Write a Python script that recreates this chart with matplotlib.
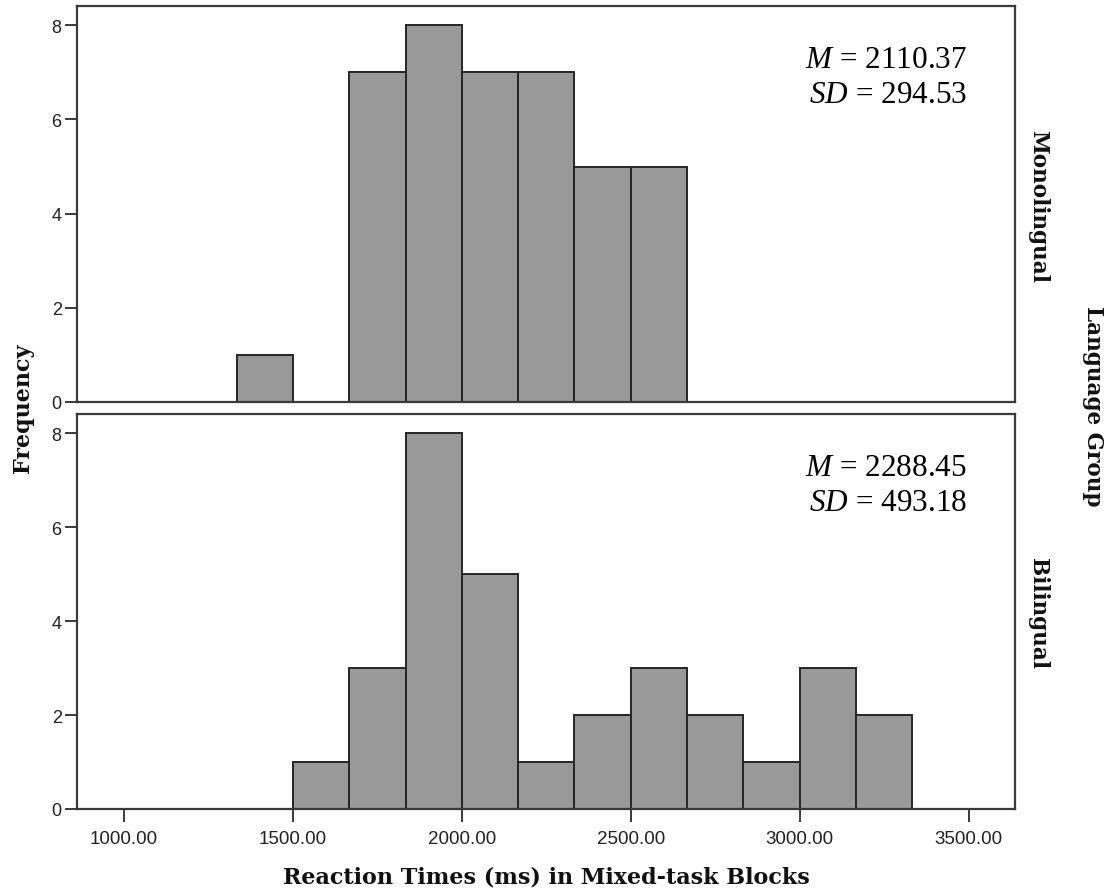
import matplotlib
matplotlib.use("Agg")
import matplotlib.pyplot as plt
from matplotlib.ticker import FixedLocator

# ---- data ----
bin_width = 500.0 / 3.0
mono_bin_starts = [1333.33, 1500.00, 1666.67, 1833.33, 2000.00, 2166.67, 2333.33, 2500.00]
mono_counts = [1, 0, 7, 8, 7, 7, 5, 5]
bi_bin_starts = [1500.00, 1666.67, 1833.33, 2000.00, 2166.67, 2333.33, 2500.00,
                 2666.67, 2833.33, 3000.00, 3166.67]
bi_counts = [1, 3, 8, 5, 1, 2, 3, 2, 1, 3, 2]
group_labels = ["Monolingual", "Bilingual"]
means = ["2110.37", "2288.45"]
sds = ["294.53", "493.18"]
x_ticks = [1000, 1500, 2000, 2500, 3000, 3500]
x_tick_labels = ["1000.00", "1500.00", "2000.00", "2500.00", "3000.00", "3500.00"]
y_ticks = [0, 2, 4, 6, 8]
x_label = "Reaction Times (ms) in Mixed-task Blocks"
y_label = "Frequency"
facet_title = "Language Group"

plt.rcParams['mathtext.fontset'] = 'custom'
plt.rcParams['mathtext.rm'] = 'Liberation Serif'
plt.rcParams['mathtext.it'] = 'Liberation Serif:italic'

fig = plt.figure(figsize=(11.12, 8.95), dpi=100)
W, H = 1112, 895

def fx(px):
    return px / W

def fy(py):
    return 1 - py / H

left, right = fx(77), fx(1015)
ax_top = fig.add_axes([left, fy(403), right - left, fy(7) - fy(403)])
ax_bot = fig.add_axes([left, fy(810), right - left, fy(415) - fy(810)])

spine_col = "#3a3a3a"
for ax, starts, counts, m, sd in [(ax_top, mono_bin_starts, mono_counts, means[0], sds[0]),
                                  (ax_bot, bi_bin_starts, bi_counts, means[1], sds[1])]:
    ax.bar(starts, counts, width=bin_width, align='edge', color="#999999",
           edgecolor="#262626", linewidth=1.4, zorder=2)
    ax.set_xlim(861, 3637)
    ax.set_ylim(0, 8.41)
    ax.yaxis.set_major_locator(FixedLocator(y_ticks))
    ax.set_yticklabels([str(t) for t in y_ticks], family="Liberation Sans",
                       fontsize=13, color="#222222")
    ax.tick_params(axis='y', direction='out', length=9, width=1.4, color=spine_col, pad=2)
    for s in ax.spines.values():
        s.set_color(spine_col)
        s.set_linewidth(1.6)
    ax.text(0.949, 0.846, r"$\mathit{M}$ = " + m, transform=ax.transAxes,
            ha='right', va='baseline', family="Liberation Serif", fontsize=22.5)
    ax.text(0.949, 0.758, r"$\mathit{SD}$ = " + sd, transform=ax.transAxes,
            ha='right', va='baseline', family="Liberation Serif", fontsize=22.5)

ax_top.set_xticks([])
ax_bot.xaxis.set_major_locator(FixedLocator(x_ticks))
ax_bot.set_xticklabels(x_tick_labels, family="Liberation Sans", fontsize=13.5, color="#222222")
ax_bot.tick_params(axis='x', direction='out', length=9, width=1.4, color=spine_col, pad=6)

lab_font = dict(family="DejaVu Serif", fontweight='bold', color="#111111")
fig.text(fx(1038), fy(206), group_labels[0], rotation=270, ha='center', va='center',
         fontsize=15.5, **lab_font)
fig.text(fx(1038), fy(613), group_labels[1], rotation=270, ha='center', va='center',
         fontsize=15.5, **lab_font)
fig.text(fx(1093), fy(406), facet_title, rotation=270, ha='center', va='center',
         fontsize=15.5, **lab_font)
fig.text(fx(23), fy(408), y_label, rotation=90, ha='center', va='center',
         fontsize=16, **lab_font)
fig.text(fx(546), fy(878), x_label, ha='center', va='center', fontsize=16, **lab_font)

fig.savefig("out.png", dpi=100)
